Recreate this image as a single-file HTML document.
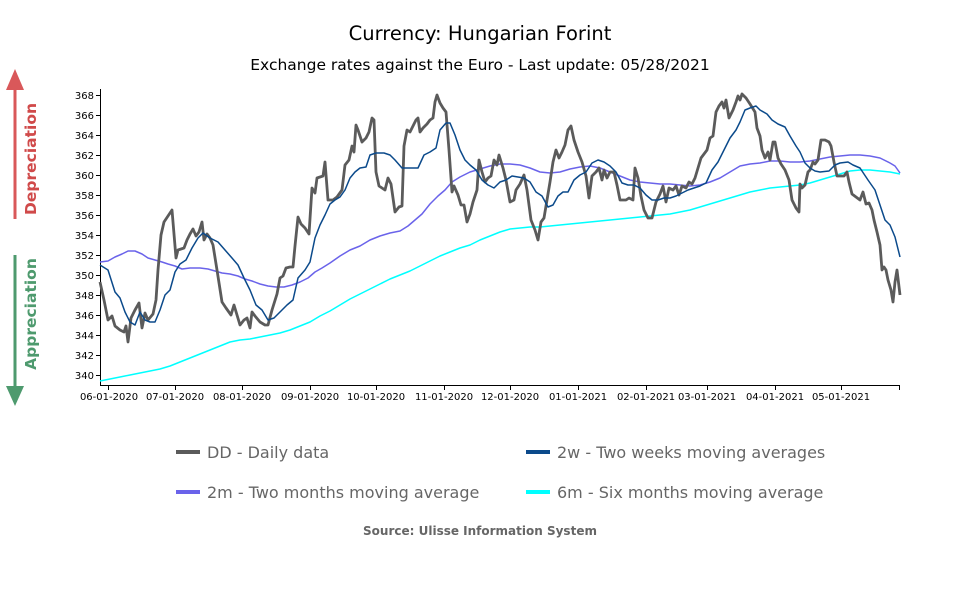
<!DOCTYPE html>
<html><head><meta charset="utf-8"><style>
body{margin:0;background:#fff;width:960px;height:600px;overflow:hidden}
svg{display:block;font-family:"DejaVu Sans","Liberation Sans",sans-serif}
</style></head><body>
<svg width="960" height="600" viewBox="0 0 960 600" xmlns="http://www.w3.org/2000/svg">
<text x="480" y="40" text-anchor="middle" font-size="19.5" fill="#000">Currency: Hungarian Forint</text>
<text x="480" y="70" text-anchor="middle" font-size="15.5" fill="#000">Exchange rates against the Euro - Last update: 05/28/2021</text>

<!-- arrows -->
<line x1="15" y1="88" x2="15" y2="219" stroke="#d9585a" stroke-width="3"/>
<polygon points="6,90 24,90 15,69" fill="#d9585a"/>
<text transform="translate(36,159) rotate(-90)" text-anchor="middle" font-size="15.5" font-weight="bold" fill="#d04a4a">Depreciation</text>
<line x1="15" y1="255" x2="15" y2="388" stroke="#4e9a6e" stroke-width="3"/>
<polygon points="6,386 24,386 15,406" fill="#4e9a6e"/>
<text transform="translate(36,314) rotate(-90)" text-anchor="middle" font-size="15.5" font-weight="bold" fill="#4e9a6e">Appreciation</text>

<!-- axes -->
<g stroke="#000" stroke-width="1" fill="none">
<line x1="100.5" y1="89" x2="100.5" y2="385"/>
<line x1="100" y1="385.5" x2="900" y2="385.5"/>
<path d="M96 95.5h4M96 115.5h4M96 135.5h4M96 155.5h4M96 175.5h4M96 195.5h4M96 215.5h4M96 235.5h4M96 255.5h4M96 275.5h4M96 295.5h4M96 315.5h4M96 335.5h4M96 355.5h4M96 375.5h4"/>
<path d="M108.5 385v5M175.5 385v5M242.5 385v5M310.5 385v5M376.5 385v5M444.5 385v5M510.5 385v5M578.5 385v5M646.5 385v5M707.5 385v5M775.5 385v5M841.5 385v5M899.5 385v5"/>
</g>
<g font-size="10" fill="#000" text-anchor="end">
<text x="94" y="99">368</text><text x="94" y="119">366</text><text x="94" y="139">364</text><text x="94" y="159">362</text><text x="94" y="179">360</text><text x="94" y="199">358</text><text x="94" y="219">356</text><text x="94" y="239">354</text><text x="94" y="259">352</text><text x="94" y="279">350</text><text x="94" y="299">348</text><text x="94" y="319">346</text><text x="94" y="339">344</text><text x="94" y="359">342</text><text x="94" y="379">340</text>
</g>
<g font-size="10" fill="#000" text-anchor="middle">
<text x="109" y="400">06-01-2020</text><text x="175" y="400">07-01-2020</text><text x="242" y="400">08-01-2020</text><text x="310" y="400">09-01-2020</text><text x="376" y="400">10-01-2020</text><text x="444" y="400">11-01-2020</text><text x="510" y="400">12-01-2020</text><text x="578" y="400">01-01-2021</text><text x="646" y="400">02-01-2021</text><text x="707" y="400">03-01-2021</text><text x="775" y="400">04-01-2021</text><text x="841" y="400">05-01-2021</text>
</g>

<g fill="none" stroke-linejoin="round">
<polyline stroke="#00ffff" stroke-width="1.5" points="100,381 110,379 120,377 130,375 140,373 150,371 160,369 170,366 180,362 190,358 200,354 210,350 220,346 230,342 240,340 250,339 260,337 270,335 280,333 290,330 300,326 310,322 320,316 330,311 340,305 350,299 360,294 370,289 380,284 390,279 400,275 410,271 420,266 430,261 440,256 450,252 460,248 470,245 480,240 490,236 500,232 510,229 520,228 530,227 540,227 550,226 560,225 570,224 580,223 590,222 600,221 610,220 620,219 630,218 640,217 650,216 660,215 670,214 680,212 690,210 700,207 710,204 720,201 730,198 740,195 750,192 760,190 770,188 780,187 790,186 800,185 810,183 820,180 830,177 840,174 850,171 860,170 870,170 880,171 890,172 900,174"/>
<polyline stroke="#6a63ea" stroke-width="1.5" points="100,262 108,261 115,257 122,254 128,251 135,251 142,254 148,258 155,260 162,262 168,264 175,266 182,269 190,268 200,268 208,269 215,271 222,273 230,274 238,276 245,279 252,281 260,284 268,286 276,287 284,287 292,285 300,282 308,278 315,272 322,268 330,263 340,256 350,250 360,246 370,240 380,236 390,233 400,231 408,226 415,220 422,214 430,204 438,196 445,190 452,182 460,177 470,172 480,169 490,166 500,164 510,164 520,165 530,168 540,172 550,173 560,172 570,169 580,167 590,166 600,168 610,172 620,176 630,180 640,182 650,183 660,184 670,184 680,185 690,186 700,185 710,182 720,178 730,172 740,166 750,164 760,163 770,161 780,161 790,162 800,162 810,161 820,159 830,157 840,156 850,155 860,155 870,156 880,158 890,163 895,166 900,173"/>
<polyline stroke="#5b5b5b" stroke-width="2.8" points="100,282 104,300 108,320 112,316 115,326 120,330 124,332 126,326 128,342 131,318 135,310 139,303 142,328 145,313 148,320 153,314 156,300 158,270 161,235 164,222 168,216 172,210 176,258 178,250 184,248 187,240 190,234 193,229 196,236 199,232 202,222 204,240 207,234 210,238 213,245 217,270 222,302 226,308 231,315 234,305 237,315 240,325 244,320 247,318 250,328 252,312 255,316 260,322 265,325 268,325 272,310 277,294 280,278 283,276 286,268 290,267 293,267 295,246 298,217 301,224 305,228 309,234 312,188 315,193 317,178 323,176 325,162 328,200 333,200 337,197 342,190 345,165 349,160 352,146 354,152 356,125 358,130 362,142 366,138 369,132 372,118 374,120 376,172 379,186 382,188 385,190 388,178 391,184 395,212 399,207 402,206 404,146 407,130 410,132 413,126 416,120 418,118 420,132 423,128 427,124 430,120 433,118 435,102 437,95 440,103 443,108 446,112 449,150 452,192 454,186 458,195 461,205 464,205 467,222 470,214 473,202 477,190 479,160 482,172 485,182 488,178 491,176 494,160 497,165 499,155 503,168 506,180 510,202 514,200 516,190 520,184 524,175 527,190 531,220 535,230 538,240 541,222 544,218 547,200 550,182 553,162 556,150 559,158 562,152 565,145 568,130 571,126 574,140 578,152 582,162 586,176 589,198 592,176 596,172 599,168 602,180 604,170 607,178 610,172 614,172 617,185 620,200 623,200 626,200 629,198 633,200 635,168 638,178 641,196 644,210 648,218 652,218 656,202 660,194 663,186 666,202 669,188 673,190 676,186 679,195 682,186 686,188 689,182 692,184 695,178 698,168 701,158 704,154 707,150 710,138 713,136 716,112 719,106 722,102 724,108 726,100 729,118 733,110 736,102 738,96 740,100 742,94 746,98 750,104 755,112 757,128 760,136 762,150 765,158 768,152 770,160 773,142 775,142 778,158 781,164 785,170 789,180 792,200 796,208 799,212 800,184 802,188 805,185 808,172 810,170 813,162 815,164 818,160 821,140 825,140 829,142 831,146 834,162 837,176 840,176 844,176 847,172 849,182 852,194 856,197 860,200 863,192 866,204 869,203 872,210 874,220 877,232 880,245 882,270 884,267 886,270 888,280 891,290 893,302 895,282 897,270 900,295"/>
<polyline stroke="#0b4a8b" stroke-width="1.5" points="100,265 108,270 115,292 120,298 125,312 130,322 135,325 140,312 145,320 150,322 155,322 160,310 165,295 170,290 175,272 180,264 186,260 192,248 198,238 203,233 210,238 218,242 225,250 232,258 238,265 244,278 250,290 256,305 262,310 268,320 274,318 280,312 287,305 293,300 298,278 305,270 310,262 315,238 320,225 325,215 330,204 335,200 340,197 345,190 350,178 355,172 360,168 366,167 370,155 376,153 384,153 390,155 395,160 402,168 410,168 418,168 424,155 430,152 436,148 440,130 446,123 450,123 455,135 460,150 465,160 470,165 476,170 482,180 488,185 494,188 500,182 506,180 512,176 518,177 524,178 530,182 536,192 542,196 548,207 553,205 558,196 563,192 568,192 574,180 580,175 586,172 592,163 598,160 604,162 610,166 616,172 622,183 628,185 634,185 640,188 646,195 652,200 658,200 664,198 670,198 676,196 682,193 688,190 694,188 700,186 706,183 712,170 718,162 724,150 730,138 736,130 740,122 745,110 750,108 756,106 760,110 767,114 772,120 778,124 785,127 790,136 796,146 800,152 805,163 810,168 815,171 820,172 829,171 835,165 840,163 848,162 853,165 860,168 868,180 875,190 880,205 885,220 890,225 895,237 900,257"/>
</g>

<!-- legend -->
<g stroke-width="4">
<line x1="176" y1="452" x2="200" y2="452" stroke="#5b5b5b"/>
<line x1="526" y1="452" x2="550" y2="452" stroke="#0b4a8b"/>
<line x1="176" y1="492" x2="200" y2="492" stroke="#6a63ea"/>
<line x1="526" y1="492" x2="550" y2="492" stroke="#00ffff"/>
</g>
<g font-size="16" fill="#666">
<text x="207" y="458">DD - Daily data</text>
<text x="557" y="458">2w - Two weeks moving averages</text>
<text x="207" y="498">2m - Two months moving average</text>
<text x="557" y="498">6m - Six months moving average</text>
</g>
<text x="480" y="535" text-anchor="middle" font-size="12" font-weight="bold" fill="#666">Source: Ulisse Information System</text>
</svg>
</body></html>
